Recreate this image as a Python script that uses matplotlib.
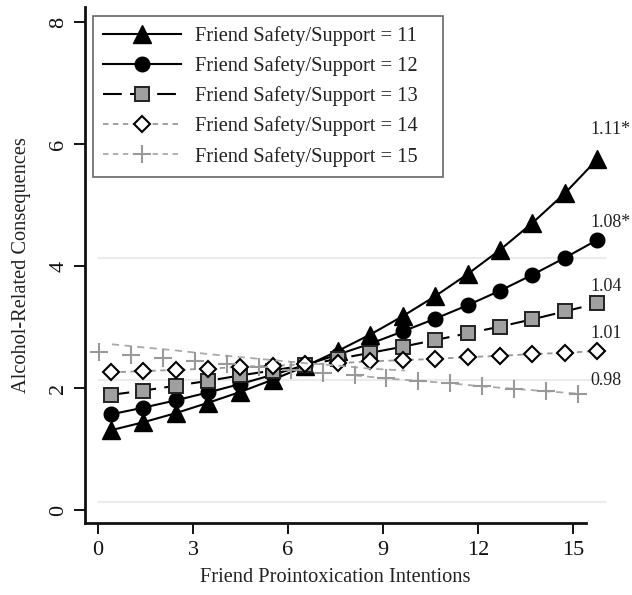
import matplotlib

matplotlib.use("Agg")
import matplotlib.pyplot as plt

plt.rcParams["font.family"] = ["Liberation Serif", "DejaVu Serif"]

# ---- data ----
x_grid = [0.4, 1.42, 2.45, 3.47, 4.5, 5.52, 6.55, 7.57, 8.6, 9.62,
          10.65, 11.67, 12.7, 13.72, 14.75, 15.76]
y_11 = [1.31, 1.44, 1.59, 1.76, 1.94, 2.14, 2.36, 2.61, 2.88, 3.18,
        3.51, 3.87, 4.27, 4.71, 5.20, 5.75]
y_12 = [1.57, 1.68, 1.80, 1.93, 2.07, 2.22, 2.38, 2.55, 2.73, 2.93,
        3.14, 3.36, 3.60, 3.86, 4.14, 4.43]
y_13 = [1.89, 1.96, 2.04, 2.12, 2.21, 2.29, 2.38, 2.48, 2.58, 2.68,
        2.79, 2.90, 3.01, 3.13, 3.26, 3.39]
y_14 = [2.26, 2.28, 2.30, 2.32, 2.35, 2.37, 2.39, 2.41, 2.44, 2.46,
        2.48, 2.51, 2.53, 2.56, 2.58, 2.61]
# series 15: markers sit on a shifted grid, its line is split in two pieces
x_15 = [0.03, 1.04, 2.05, 3.06, 4.07, 5.08, 6.08, 7.09, 8.10, 9.11,
        10.12, 11.13, 12.14, 13.15, 14.16, 15.17]
y_15 = [2.59, 2.54, 2.49, 2.44, 2.39, 2.34, 2.30, 2.25, 2.21, 2.16,
        2.12, 2.08, 2.03, 1.99, 1.95, 1.91]
x_15_line = [0.44, 1.42, 2.45, 3.47, 4.5, 5.52, 6.55, 7.57, 8.6, 9.7]
y_15_line = [2.72, 2.67, 2.62, 2.56, 2.51, 2.46, 2.41, 2.37, 2.32, 2.29]

labels = ["Friend Safety/Support = 11", "Friend Safety/Support = 12",
          "Friend Safety/Support = 13", "Friend Safety/Support = 14",
          "Friend Safety/Support = 15"]
slopes = ["1.11*", "1.08*", "1.04", "1.01", "0.98"]
slope_y = [6.24, 4.71, 3.66, 2.90, 2.13]
grid_y = [0.13, 2.13, 4.13]

fig = plt.figure(figsize=(6.32, 5.95), dpi=100)
ax = fig.add_axes((85 / 632, 72 / 595, 501 / 632, 516 / 595))

ax.hlines(grid_y, 0, 16.05, color="#ebebeb", lw=1.5, zorder=0, clip_on=False)

kw = dict(clip_on=False)
h11, = ax.plot(x_grid, y_11, "-", color="black", lw=1.5, marker="^", ms=12.5,
               mfc="black", mec="black", label=labels[0], **kw)
h12, = ax.plot(x_grid, y_12, "-", color="black", lw=1.5, marker="o", ms=10.5,
               mfc="black", mec="black", label=labels[1], **kw)
h13, = ax.plot(x_grid, y_13, color="black", lw=1.5, dashes=(9, 4), marker="s", ms=10,
               mfc="#a0a0a0", mec="#222222", mew=1.4, label=labels[2], **kw)
h14, = ax.plot(x_grid, y_14, color="#999999", lw=1.3, dashes=(3, 2.5), marker="D", ms=8,
               mfc="white", mec="black", mew=1.5, label=labels[3], **kw)
ax.plot(x_15_line, y_15_line, color="#aaaaaa", lw=1.3, dashes=(4, 3), **kw)
ax.plot(x_15[8:], y_15[8:], color="#aaaaaa", lw=1.3, dashes=(4, 3), **kw)
ax.plot(x_15, y_15, "none", marker="+", ms=13, mec="#999999", mew=1.5, **kw)
h15, = ax.plot([], [], color="#aaaaaa", lw=1.3, dashes=(3, 2.5), marker="+",
               ms=13, mec="#999999", mew=1.5, label=labels[4])

for s, yy in zip(slopes, slope_y):
    ax.text(15.55, yy, s, fontsize=13, ha="left", va="center", color="#222222",
            clip_on=False)

ax.set_xlim(-0.41, 15.41)
ax.set_ylim(-0.21, 8.25)
ax.set_xticks([0, 3, 6, 9, 12, 15])
ax.set_yticks([0, 2, 4, 6, 8])
for sp in ("top", "right"):
    ax.spines[sp].set_visible(False)
for sp in ("left", "bottom"):
    ax.spines[sp].set_linewidth(2)
    ax.spines[sp].set_color("#111111")
ax.tick_params(axis="both", direction="out", length=8, width=1.4, colors="#111111",
               labelsize=16)
ax.tick_params(axis="x", pad=5)
ax.tick_params(axis="y", pad=4)
for t in ax.get_yticklabels():
    t.set_rotation(90)
    t.set_va("center")

ax.set_xlabel("Friend Prointoxication Intentions", fontsize=14.7, labelpad=6,
              color="#222222")
ax.set_ylabel("Alcohol-Related Consequences", fontsize=14.7, labelpad=13,
              color="#222222")

leg = ax.legend(handles=[h11, h12, h13, h14, h15],
                labels=[lab + "   " for lab in labels], loc="upper left",
                bbox_to_anchor=(8 / 501, 1 - 9 / 516), fontsize=14.7,
                handlelength=3.8, handletextpad=0.7, labelspacing=0.5,
                borderpad=0.5, borderaxespad=0, fancybox=False, framealpha=1)
leg.get_frame().set_edgecolor("#666666")
leg.get_frame().set_linewidth(1.2)
for t in leg.get_texts():
    t.set_color("#222222")

fig.savefig("out.png", dpi=100)
